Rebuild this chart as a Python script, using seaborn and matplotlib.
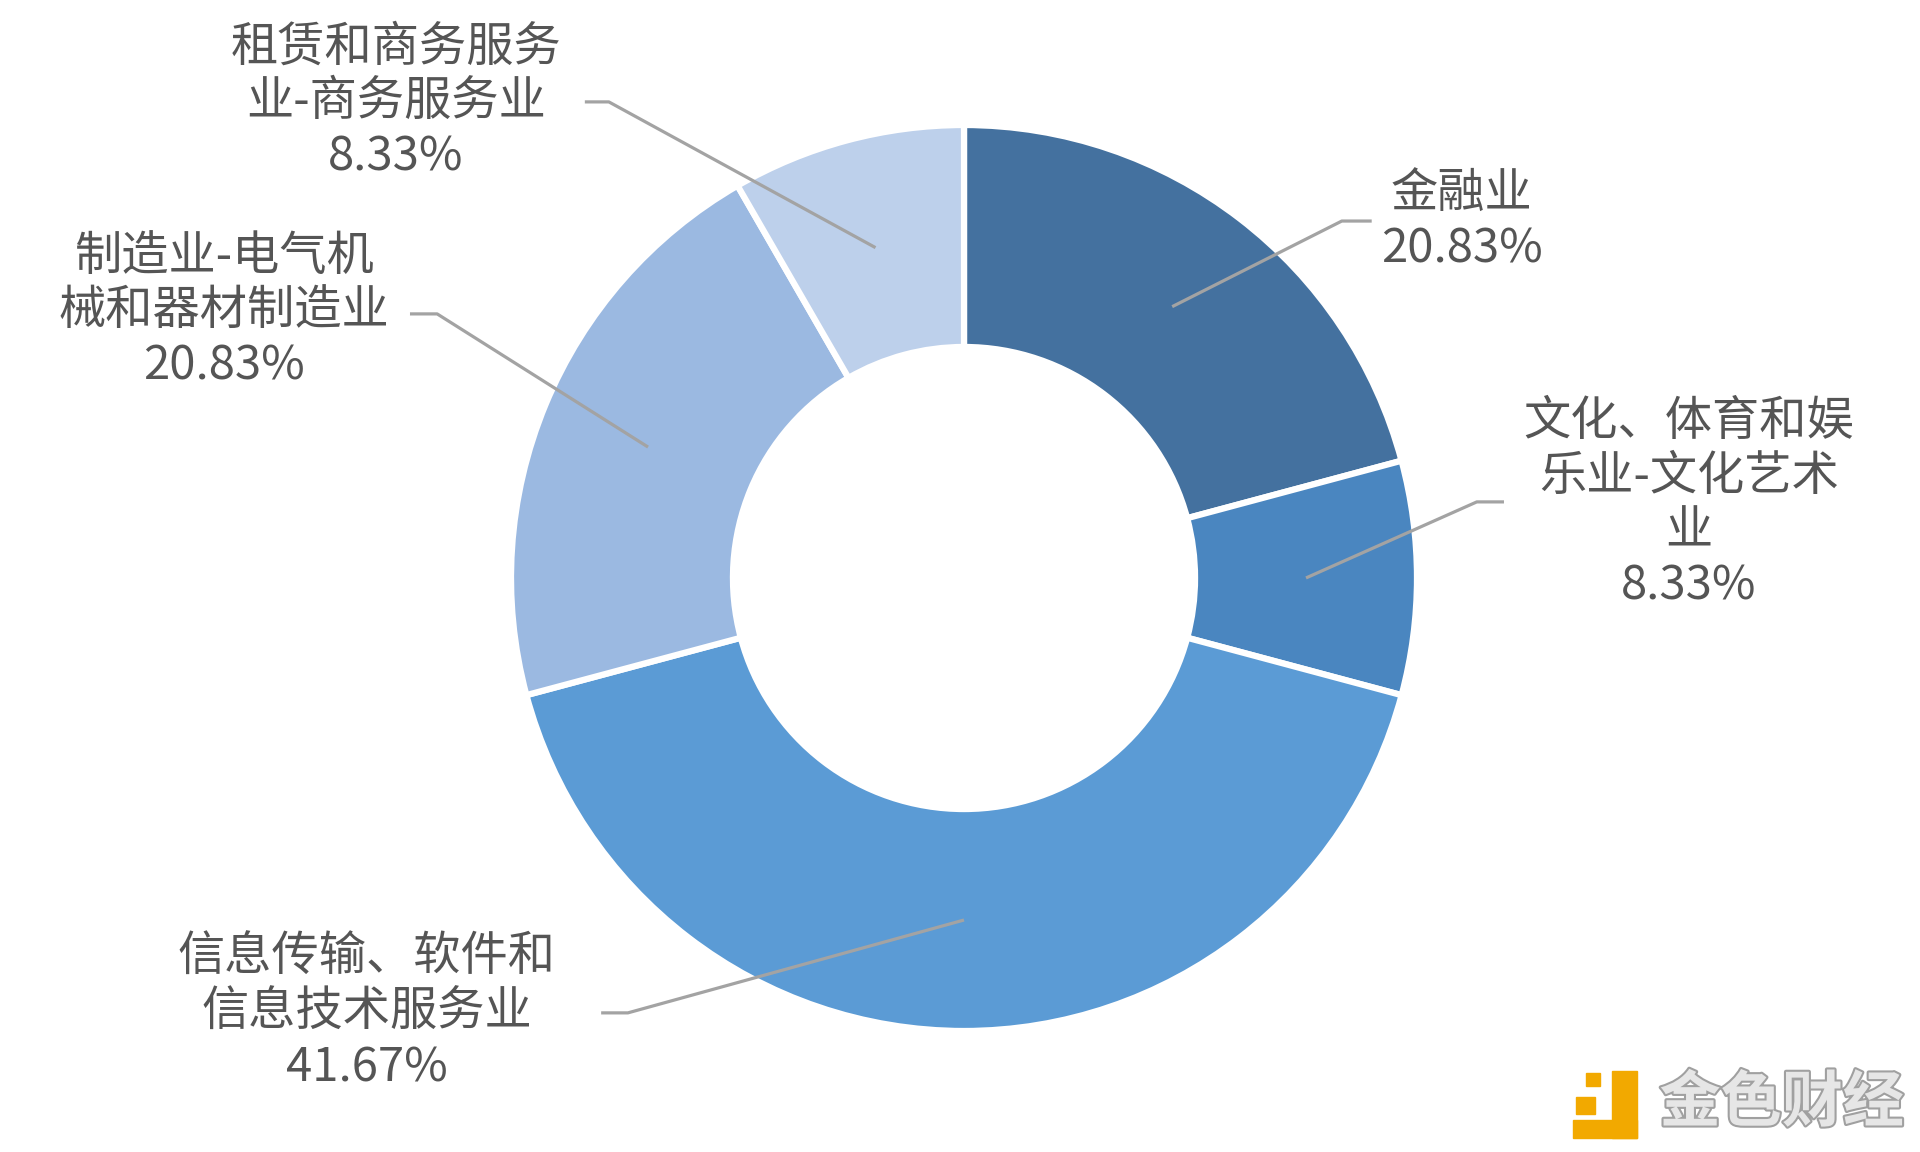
import matplotlib
matplotlib.use('Agg')
import numpy as np
import matplotlib.pyplot as plt
import matplotlib.patheffects as pe
from matplotlib.patches import Rectangle
import seaborn as sns

# data
labels = ['金融业',
          '文化、体育和娱\n乐业-文化艺术\n业',
          '信息传输、软件和\n信息技术服务业',
          '制造业-电气机\n械和器材制造业',
          '租赁和商务服务\n业-商务服务业']
shares = [20.83, 8.33, 41.67, 20.83, 8.33]
colors = ['#44719F', '#4A86C0', '#5B9BD5', '#9BB9E1', '#BDD0EB']

# label centres and leader elbows (data units, radius 1 = outer ring)
text_pos = [(1.099, 0.786), (1.600, 0.163), (-1.318, -0.960), (-1.634, 0.589), (-1.254, 1.051)]
elbow_pos = [(0.834, 0.788), (1.132, 0.168), (-0.742, -0.960), (-1.163, 0.583), (-0.784, 1.051)]
end_pos = [(0.900, 0.788), (1.192, 0.168), (-0.801, -0.960), (-1.223, 0.583), (-0.837, 1.051)]

sns.set_theme(style='white')
plt.rcParams['font.family'] = ['Noto Sans CJK SC', 'DejaVu Sans']

fig = plt.figure(figsize=(19.2, 11.52), dpi=100)
ax = fig.add_axes([0, 0, 1, 1])

ring = 0.49
wedges, _ = ax.pie(shares, colors=colors, startangle=90, counterclock=False,
                   radius=1.0, wedgeprops=dict(width=ring, edgecolor='white', linewidth=4.5))

# pixel-consistent limits: centre at (964, 578) px, radius 453 px
r_px = 453.0
ax.set_xlim(-964 / r_px, (1920 - 964) / r_px)
ax.set_ylim(-(1152 - 578) / r_px, 578 / r_px)
ax.set_aspect('auto')
ax.axis('off')

for w, lab, val, tp, el, en in zip(wedges, labels, shares, text_pos, elbow_pos, end_pos):
    mid = np.deg2rad((w.theta1 + w.theta2) / 2)
    rr = 1.0 - ring / 2
    sx, sy = rr * np.cos(mid), rr * np.sin(mid)
    ax.plot([sx, el[0], en[0]], [sy, el[1], en[1]], color='#A3A3A3', lw=2.3,
            solid_capstyle='butt')
    ax.text(tp[0], tp[1], f'{lab}\n{val:.2f}%', ha='center', va='center',
            multialignment='center', fontsize=34, color='#555555', linespacing=1.17)

# watermark
orange = '#F2A900'
for (x0, y0, x1, y1) in [(1612, 1071, 1637, 1138), (1573, 1120, 1637, 1138),
                         (1576, 1097, 1595, 1114), (1586, 1073, 1600, 1086)]:
    fig.patches.append(Rectangle((x0 / 1920, 1 - y1 / 1152), (x1 - x0) / 1920,
                                 (y1 - y0) / 1152, transform=fig.transFigure,
                                 color=orange, zorder=5))
fig.text(0.928, 0.042, '金色财经', ha='center', va='center', fontsize=44,
         fontweight='bold', color='#E6E6E6',
         path_effects=[pe.withStroke(linewidth=3, foreground='#A0A0A0')])

fig.savefig('out.png', dpi=100, facecolor='white')
